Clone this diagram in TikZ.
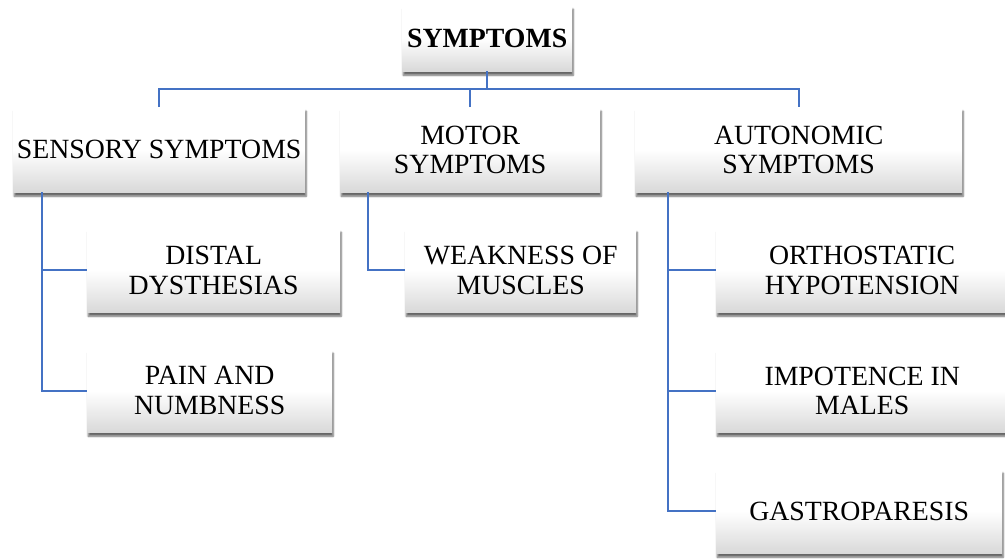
\documentclass[tikz,border=0pt]{standalone}
\usepackage{fontspec}
\setmainfont{Liberation Serif}
\usetikzlibrary{shadows.blur}
\definecolor{conncol}{RGB}{68,114,196}
\tikzset{
  box/.style={rectangle, anchor=north west, align=center, inner sep=0pt,
    top color=white, bottom color=black!15, middle color=white,
    blur shadow={shadow xshift=1pt, shadow yshift=-4pt, shadow blur steps=6, shadow opacity=60},
    font=\fontsize{27.8}{29.5}\selectfont},
  conn/.style={draw=conncol, line width=2.3pt}
}
\begin{document}
\begin{tikzpicture}[x=1pt,y=-1pt]
\useasboundingbox (0,0) rectangle (1005,558);
\node[box, minimum width=170pt, minimum height=66pt, font=\fontsize{27.8}{29.5}\selectfont\bfseries] (top) at (402,5) {SYMPTOMS};
\node[box, minimum width=292pt, minimum height=85pt] (sens) at (13,107) {SENSORY SYMPTOMS};
\node[box, minimum width=260pt, minimum height=85pt] (mot) at (340,107) {MOTOR\\SYMPTOMS};
\node[box, minimum width=327pt, minimum height=85pt] (aut) at (635,107) {AUTONOMIC\\SYMPTOMS};
\node[box, minimum width=253pt, minimum height=84pt] (dist) at (87,228) {DISTAL\\DYSTHESIAS};
\node[box, minimum width=245pt, minimum height=83pt] (pain) at (87,349) {PAIN AND\\NUMBNESS};
\node[box, minimum width=231pt, minimum height=84pt] (weak) at (405,228) {WEAKNESS OF\\MUSCLES};
\node[box, minimum width=292pt, minimum height=84pt] (orth) at (716,228) {ORTHOSTATIC\\HYPOTENSION};
\node[box, minimum width=292pt, minimum height=83pt] (impo) at (716,349) {IMPOTENCE IN\\MALES};
\node[box, minimum width=286pt, minimum height=84pt] (gast) at (716,469) {GASTROPARESIS};
\coordinate (bus) at (0,89);
\coordinate (sx) at (42,0);
\coordinate (mx) at (368,0);
\coordinate (ax) at (668,0);
\draw[conn] (top.south) -- (top.south |- bus);
\draw[conn] (sens.north) -- (sens.north |- bus) -| (aut.north);
\draw[conn] (mot.north) -- (mot.north |- bus);
\draw[conn] (sens.south -| sx) |- (dist.west);
\draw[conn] (sens.south -| sx) |- (pain.west);
\draw[conn] (mot.south -| mx) |- (weak.west);
\draw[conn] (aut.south -| ax) |- (orth.west);
\draw[conn] (aut.south -| ax) |- (impo.west);
\draw[conn] (aut.south -| ax) |- (gast.west);
\end{tikzpicture}
\end{document}
